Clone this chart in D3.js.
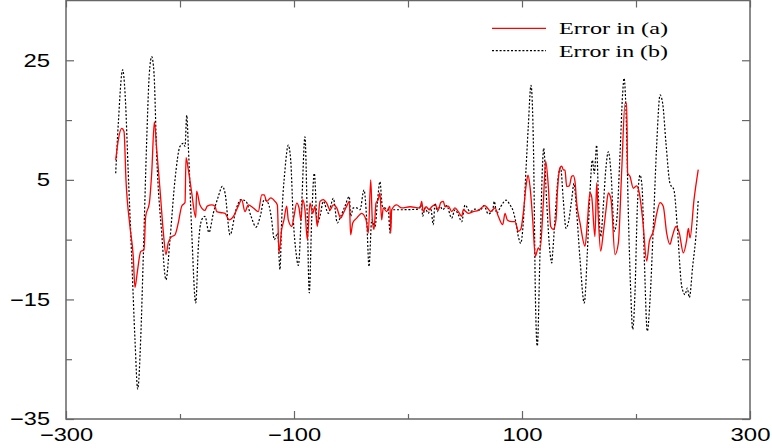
<!DOCTYPE html>
<html>
<head>
<meta charset="utf-8">
<script src="https://cdn.jsdelivr.net/npm/d3@7"></script>
<style>
  body { margin: 0; background: #fff; }
</style>
</head>
<body>
<div id="chart"></div>
<script>
//////////////////////////////////////////////////////////////////// DATA /////////////////////////////////////////////////////////////////
// Error in (a) - red solid
var xa = [-256.4, -254.1, -251.1, -249.1, -247.4, -243.9, -241.0, -239.5, -237.5, -234.5, -231.6, -230.1, -226.9, -224.8, -222.5, -220.4,
  -217.5, -214.6, -212.3, -210.3, -207.3, -204.4, -201.5, -198.5, -195.6, -194.7, -192.7, -189.7, -186.2, -185.4, -182.5, -178.1,
  -176.1, -172.2, -169.3, -167.8, -163.4, -160.5, -157.0, -153.2, -148.9, -145.9, -143.0, -140.1, -135.7, -131.3, -128.3, -126.1,
  -124.0, -120.4, -116.7, -114.6, -113.2, -110.8, -108.8, -106.4, -105.0, -102.0, -100.0, -97.6, -95.6, -93.9, -92.4, -90.4,
  -88.3, -86.0, -83.6, -81.6, -79.6, -77.2, -74.3, -71.3, -68.4, -65.5, -62.5, -59.0, -56.8, -53.8, -51.5, -50.3,
  -48.5, -45.0, -40.6, -36.8, -34.8, -32.7, -31.3, -29.8, -28.1, -26.1, -24.6, -23.1, -21.7, -18.7, -15.8, -15.2,
  -14.3, -9.9, -5.5, 1.8, 10.5, 12.0, 13.4, 15.8, 18.7, 20.8, 23.7, 26.6, 28.7, 31.0, 32.5, 35.4,
  38.3, 41.2, 44.1, 47.1, 48.5, 52.9, 57.3, 61.7, 65.5, 67.5, 69.6, 72.5, 76.3, 79.2, 83.1, 85.1,
  87.1, 91.0, 93.9, 96.8, 98.9, 101.1, 103.5, 105.3, 107.0, 109.4, 111.7, 114.3, 115.8, 118.7, 120.8, 123.1,
  125.2, 127.5, 129.8, 131.0, 133.3, 134.8, 136.2, 137.7, 139.2, 141.5, 143.6, 145.0, 146.5, 148.0, 150.9, 155.3,
  157.3, 159.6, 161.1, 164.0, 165.5, 166.9, 169.0, 171.3, 173.7, 175.7, 178.1, 181.6, 184.5, 187.5, 190.4, 191.8,
  192.7, 194.7, 197.6, 200.6, 202.9, 205.9, 209.4, 211.7, 215.2, 218.2, 221.1, 223.9, 226.9, 229.8, 231.8, 235.1,
  238.0, 241.5, 244.5, 245.9, 247.4, 250.9, 254.6];
var ya = [8.3, 11.7, 13.6, 13.1, 5.0, -2.8, -7.8, -13.0, -10.5, -7.0, -6.7, -1.1, 1.1, 6.2, 14.7, 10.0,
  3.3, -3.8, -7.5, -5.5, -4.5, -4.2, -2.2, 0.6, 1.2, 8.7, 6.7, 2.8, -1.3, 3.1, 0.8, -0.1,
  0.6, 0.8, 0.6, -0.3, -0.5, -0.6, -1.7, -1.1, 0.6, 1.7, -0.3, 0.8, 0.3, -0.3, 2.5, 2.5,
  1.4, 2.0, 1.4, 0.8, -7.2, -3.3, -1.7, 0.6, -1.7, -2.8, -1.1, 1.1, 0.3, -1.7, 1.7, 0.0,
  -5.0, 1.1, -0.6, 0.6, -2.8, 1.4, 1.7, 1.1, 0.0, 0.8, 0.3, -1.4, -0.6, 0.6, 1.4, -4.2,
  -2.2, -1.4, -0.6, -1.7, -3.9, 5.0, -1.7, -3.3, 1.1, 1.7, 2.8, -1.7, 0.3, -0.3, 0.6, -3.9,
  0.0, 0.8, 0.3, 0.5, 0.3, 1.4, -0.3, 0.5, 0.0, 0.5, 0.8, 0.0, 1.2, 1.4, 0.5, 0.6,
  -0.3, 0.3, -0.3, -1.1, 0.0, -0.6, -0.3, -0.1, 0.5, 0.7, 0.3, -0.3, 0.3, -1.1, -2.5, -0.6,
  -1.7, -2.0, -2.0, -3.6, -3.3, -0.6, 3.9, 5.8, 3.9, -1.7, -7.8, -6.4, -6.7, 1.1, 8.1, 3.9,
  -2.8, -3.3, -1.7, 2.8, 7.0, 7.3, 6.7, 6.6, 3.9, 4.0, 5.6, 5.7, 4.7, 1.1, -2.2, -6.1,
  -2.2, 2.8, 2.2, -4.5, 4.5, -1.1, -6.9, -3.9, 0.0, 2.8, 1.7, -7.5, -5.6, 6.7, 17.8, 17.8,
  6.1, 5.6, 3.6, 4.0, 2.8, -1.7, -8.6, -5.3, -3.6, -0.6, 1.2, 0.6, -3.9, -5.8, -4.5, -2.8,
  -3.9, -7.2, -5.0, -3.1, -4.7, 1.7, 6.7];

// Error in (b) - black dotted
var xb = [-256.4, -254.1, -250.3, -248.2, -245.4, -242.4, -239.5, -237.1, -234.5, -232.2, -229.2, -226.9, -224.8, -222.8, -220.4, -216.1,
  -212.3, -208.8, -204.4, -200.0, -197.1, -195.6, -194.1, -192.7, -189.7, -186.2, -183.9, -181.0, -178.1, -174.6, -170.8, -166.4,
  -162.9, -160.5, -156.1, -150.9, -146.5, -142.1, -137.7, -133.3, -129.6, -126.1, -122.6, -119.6, -117.3, -114.3, -112.3, -110.8,
  -107.9, -105.0, -102.9, -100.6, -98.2, -96.2, -93.2, -90.4, -88.3, -86.6, -84.5, -82.2, -79.6, -77.2, -74.3, -69.9,
  -65.5, -62.0, -59.0, -55.3, -51.5, -50.3, -48.0, -45.0, -42.1, -38.6, -36.2, -34.2, -31.8, -28.9, -26.9, -24.6,
  -22.5, -20.2, -17.3, -15.8, -14.3, -7.0, 9.0, 12.0, 12.9, 14.9, 17.8, 19.9, 22.2, 23.7, 25.7, 28.1,
  30.4, 33.9, 38.3, 41.2, 44.1, 47.1, 50.0, 54.4, 58.8, 63.2, 66.7, 70.4, 74.3, 75.7, 77.8, 80.7,
  83.6, 86.0, 89.5, 92.4, 94.7, 96.8, 98.9, 101.1, 103.5, 105.5, 107.9, 110.1, 111.8, 113.4, 115.8, 118.2,
  119.0, 121.7, 124.6, 126.1, 126.9, 128.9, 131.8, 133.9, 136.2, 138.6, 140.6, 143.6, 145.6, 148.0, 150.9, 154.6,
  157.3, 159.6, 161.7, 163.4, 165.5, 166.9, 169.0, 171.3, 173.7, 175.7, 178.1, 181.0, 183.1, 186.0, 188.3, 189.5,
  191.2, 193.2, 195.4, 197.1, 199.1, 201.1, 203.5, 205.3, 207.3, 209.9, 212.3, 215.2, 218.2, 221.1, 223.4, 226.3,
  229.8, 233.3, 236.2, 240.1, 243.0, 245.0, 246.8, 249.7, 253.2, 254.6];
var yb = [6.1, 14.5, 23.4, 19.5, 6.2, -7.8, -21.7, -30.0, -21.7, -7.8, 11.7, 22.8, 25.6, 22.8, 8.9, -3.8,
  -11.7, -5.0, 5.0, 10.6, 11.1, 10.6, 15.8, 10.6, -3.8, -15.6, -6.1, -1.7, -1.1, -3.8, -0.6, 2.2,
  3.9, 2.8, -4.2, 0.0, 1.7, 1.4, -1.1, -2.9, -1.1, 1.7, 1.1, -1.7, -5.0, -3.9, -10.0, -1.7,
  6.7, 10.8, 8.3, -1.7, -7.2, -9.3, 1.1, 12.2, -1.7, -13.9, -1.7, 6.1, -2.2, -1.1, 1.4, -0.6,
  1.9, -2.2, -1.1, 0.6, 2.2, -1.1, 0.3, 0.3, 0.0, 3.3, -1.7, -9.5, -1.7, -2.8, 1.1, 4.7,
  0.6, 0.3, 0.1, -3.9, 0.0, 0.0, 0.1, 0.8, -1.1, 0.3, -0.6, 0.3, -2.5, 1.1, -0.3, 0.6,
  0.0, 0.7, -1.4, 0.0, -0.8, -2.0, 0.8, -0.3, 0.1, -0.1, 0.7, -0.7, 0.0, 1.4, -0.6, 0.3,
  1.2, 1.6, 0.8, -0.3, -2.2, -4.5, -5.6, -2.2, 6.7, 13.9, 20.8, 10.0, -15.0, -22.8, -7.2, 8.3,
  10.3, 1.1, -7.2, -8.9, -7.2, -1.7, 5.6, 7.0, 1.7, -3.1, -2.2, 1.7, 4.4, -0.6, -8.3, -15.6,
  -7.2, 2.8, 8.3, 6.1, 10.8, 2.8, -4.5, 0.6, 7.2, 9.7, 6.1, -3.6, -1.7, 9.4, 19.5, 22.0,
  16.7, 0.0, -13.9, -20.0, -13.9, 0.0, 5.8, 3.9, -8.3, -20.3, -15.0, -2.8, 11.1, 19.2, 17.8, 11.1,
  4.4, 3.3, -2.8, -12.8, -14.2, -13.1, -14.7, -9.5, -2.8, 1.7];

// tick labels
var xTicksMajor = [-300, -100, 100, 300];
var xTicksMinor = [-200, 0, 200];
var yTicksMajor = [25, 5, -15, -35];
var yTicksMinor = [15, -5, -25];
var legendLabels = ["Error in (a)", "Error in (b)"];

//////////////////////////////////////////////////////////////////// CHART /////////////////////////////////////////////////////////////////
(function(){

  var W = 772, H = 448;
  var plot = { left: 66, right: 750, top: 0.5, bottom: 419 };
  var axisCol = "#666";

  var svg = d3.select("#chart")
    .append("svg")
      .attr("width", W)
      .attr("height", H);

  var x = d3.scaleLinear().domain([-300, 300]).range([plot.left, plot.right]);
  var y = d3.scaleLinear().domain([-35, 35]).range([plot.bottom, plot.top]);

  // stretch the digits like the original (wide glyphs)
  function stretch(sel) {
    sel.selectAll("text")
      .attr("font-family", "'Liberation Sans', Arial, sans-serif")
      .attr("font-size", 18)
      .attr("fill", "#000")
      .attr("lengthAdjust", "spacingAndGlyphs")
      .attr("textLength", function() { return this.textContent.length * 13.3; });
  }

  function styleAxis(g) {
    g.select(".domain").remove();
    g.selectAll(".tick line").attr("stroke", axisCol).attr("stroke-width", 1.2);
  }

  ///////////////////////////////////////// X Axis (bottom + top)
  svg.append("g")
    .attr("transform", "translate(0," + plot.bottom + ")")
    .call(d3.axisBottom(x).tickValues(xTicksMajor).tickSizeInner(-8).tickSizeOuter(0).tickPadding(9))
    .call(styleAxis)
    .call(stretch);
  svg.append("g")
    .attr("transform", "translate(0," + plot.bottom + ")")
    .call(d3.axisBottom(x).tickValues(xTicksMinor).tickSizeInner(-5).tickSizeOuter(0).tickFormat(""))
    .call(styleAxis);
  svg.append("g")
    .attr("transform", "translate(0," + plot.top + ")")
    .call(d3.axisTop(x).tickValues(xTicksMajor.concat(xTicksMinor)).tickSizeInner(-7).tickSizeOuter(0).tickFormat(""))
    .call(styleAxis);

  ///////////////////////////////////////// Y Axis (left + right)
  svg.append("g")
    .attr("transform", "translate(" + plot.left + ",0)")
    .call(d3.axisLeft(y).tickValues(yTicksMajor).tickSizeInner(-8).tickSizeOuter(0).tickPadding(16))
    .call(styleAxis)
    .call(stretch);
  svg.append("g")
    .attr("transform", "translate(" + plot.left + ",0)")
    .call(d3.axisLeft(y).tickValues(yTicksMinor).tickSizeInner(-6).tickSizeOuter(0).tickFormat(""))
    .call(styleAxis);
  svg.append("g")
    .attr("transform", "translate(" + plot.right + ",0)")
    .call(d3.axisRight(y).tickValues(yTicksMajor.concat(yTicksMinor)).tickSizeInner(-8).tickSizeOuter(0).tickFormat(""))
    .call(styleAxis);

  // frame
  svg.append("rect")
    .attr("x", plot.left)
    .attr("y", plot.top)
    .attr("width", plot.right - plot.left)
    .attr("height", plot.bottom - plot.top)
    .attr("fill", "none")
    .attr("stroke", axisCol)
    .attr("stroke-width", 1.5);

  ///////////////////////////////////////// Lines
  var dataA = xa.map(function(d, i) { return { x: d, y: ya[i] }; });
  var dataB = xb.map(function(d, i) { return { x: d, y: yb[i] }; });

  var line = d3.line()
    .curve(d3.curveMonotoneX)
    .x(function(d) { return x(d.x); })
    .y(function(d) { return y(d.y); });

  svg.append("path")
    .datum(dataB)
    .attr("fill", "none")
    .attr("stroke", "#000")
    .attr("stroke-width", 1.2)
    .attr("stroke-dasharray", "2,1.8")
    .attr("d", line);

  svg.append("path")
    .datum(dataA)
    .attr("fill", "none")
    .attr("stroke", "#ff0000")
    .attr("stroke-width", 1.3)
    .attr("d", line);

  ///////////////////////////////////////// Legend
  var legendY = [28.3, 50.7];
  var legendStyle = [
    { stroke: "#ff0000", dash: null, w: 1.3 },
    { stroke: "#000", dash: "2,1.8", w: 1.2 }
  ];

  legendLabels.forEach(function(lab, i) {
    svg.append("line")
      .attr("x1", 492).attr("x2", 546)
      .attr("y1", legendY[i]).attr("y2", legendY[i])
      .attr("stroke", legendStyle[i].stroke)
      .attr("stroke-width", legendStyle[i].w)
      .attr("stroke-dasharray", legendStyle[i].dash);

    svg.append("text")
      .attr("x", 559)
      .attr("y", legendY[i])
      .attr("dy", "0.35em")
      .attr("font-family", "'Liberation Serif', 'Times New Roman', serif")
      .attr("font-size", 17)
      .attr("lengthAdjust", "spacingAndGlyphs")
      .attr("textLength", 109)
      .text(lab);
  });

})();
</script>
</body>
</html>
